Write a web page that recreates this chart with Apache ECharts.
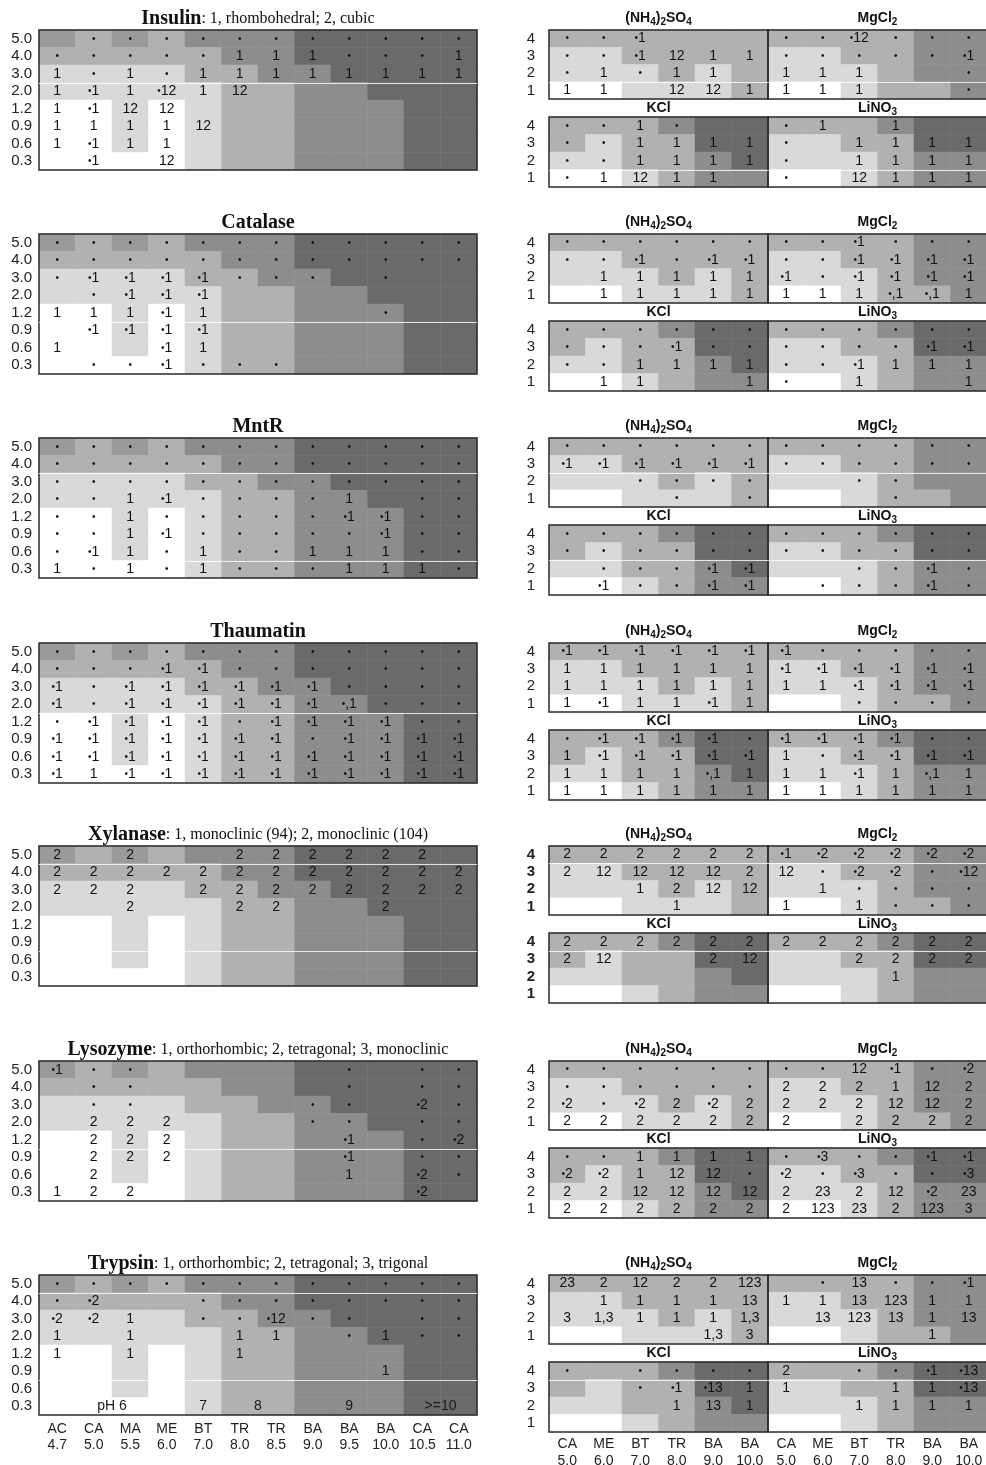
<!DOCTYPE html>
<html><head><meta charset="utf-8">
<script src="https://cdn.jsdelivr.net/npm/echarts@6/dist/echarts.min.js"></script>
<style>html,body{margin:0;padding:0;background:#fff}#chart{width:986px;height:1465px}</style>
</head><body><div id="chart"></div>
<script>
// ---------------- DATA ----------------
const leftBuffers = ['AC','CA','MA','ME','BT','TR','TR','BA','BA','BA','CA','CA'];
const leftPH = ['4.7','5.0','5.5','6.0','7.0','8.0','8.5','9.0','9.5','10.0','10.5','11.0'];
const concentrations = ['5.0','4.0','3.0','2.0','1.2','0.9','0.6','0.3'];
const saltBuffers = ['CA','ME','BT','TR','BA','BA'];
const saltPH = ['5.0','6.0','7.0','8.0','9.0','10.0'];
const saltLevels = ['4','3','2','1'];
const saltNames = ['(NH4)2SO4','MgCl2','KCl','LiNO3'];

const phGroupLabels = ['pH 6','7','8','9','>=10'];
const phGroupFirstCol = [0,4,5,7,10];
const phGroupLastCol = [3,4,6,9,11];

const proteinNames = ['Insulin','Catalase','MntR','Thaumatin','Xylanase','Lysozyme','Trypsin'];
const proteinForms = [': 1, rhombohedral; 2, cubic','','','',': 1, monoclinic (94); 2, monoclinic (104)',
  ': 1, orthorhombic; 2, tetragonal; 3, monoclinic',': 1, orthorhombic; 2, tetragonal; 3, trigonal'];

// shade levels (0 white ... 4 darkest, 5 = medium-light)
const leftShade = [
 '5 2 5 2 3 3 3 4 4 4 4 4',
 '2 2 2 2 2 3 3 4 4 4 4 4',
 '1 1 1 1 2 2 3 3 4 4 4 4',
 '1 1 1 1 1 2 2 3 3 4 4 4',
 '0 0 1 0 1 2 2 3 3 3 4 4',
 '0 0 1 0 1 2 2 3 3 3 4 4',
 '0 0 1 0 1 2 2 3 3 3 4 4',
 '0 0 0 0 1 2 2 3 3 3 4 4'];
const shadeNH4 = ['2 2 2 2 2 2','1 1 2 2 2 2','1 1 1 2 1 2','0 0 1 1 1 2'];
const shadeMgCl2 = ['2 2 2 2 3 3','1 1 2 2 3 3','1 1 1 2 3 3','0 0 1 2 2 3'];
const shadeKCl = ['2 2 2 3 4 4','2 1 2 2 4 4','1 1 2 2 3 4','0 0 1 2 3 3'];
const shadeLiNO3 = ['2 2 2 3 4 4','1 1 2 2 4 4','1 1 1 2 3 3','0 0 1 2 3 3'];

// cell texts ('-' = empty)
const insulinLeft = [
 '- • • • • • • • • • • •',
 '• • • • • 1 1 1 • • • 1',
 '1 • 1 • 1 1 1 1 1 1 1 1',
 '1 •1 1 •12 1 12 - - - - - -',
 '1 •1 12 12 - - - - - - - -',
 '1 1 1 1 12 - - - - - - -',
 '1 •1 1 1 - - - - - - - -',
 '- •1 - 12 - - - - - - - -'];
const insulinNH4 = ['• • •1 - - -','• • •1 12 1 1','• 1 • 1 1 -','1 1 - 12 12 1'];
const insulinMgCl2 = ['• • •12 • • •','• • • • • •1','1 1 1 - - •','1 1 1 - - •'];
const insulinKCl = ['• • 1 • - -','• • 1 1 1 1','• • 1 1 1 1','• 1 12 1 1 -'];
const insulinLiNO3 = ['• 1 - 1 - -','• - 1 1 1 1','• - 1 1 1 1','• - 12 1 1 1'];

const catalaseLeft = [
 '• • • • • • • • • • • •',
 '• • • • • • • • • • • •',
 '• •1 •1 •1 •1 • • • - • - -',
 '- • •1 •1 •1 - - - - - - -',
 '1 1 1 •1 1 - - - - • - -',
 '- •1 •1 •1 •1 - - - - - - -',
 '1 - - •1 1 - - - - - - -',
 '- • • •1 • • • - - - - -'];
const catalaseNH4 = ['• • • • • •','• • •1 • •1 •1','- 1 1 1 1 1','- 1 1 1 1 1'];
const catalaseMgCl2 = ['• • •1 • • •','• • •1 •1 •1 •1','•1 • •1 •1 •1 •1','1 1 1 •,1 •,1 1'];
const catalaseKCl = ['• • • • • •','• • • •1 • •','• • 1 1 1 1','- 1 1 - - 1'];
const catalaseLiNO3 = ['• • • • • •','• • • • •1 •1','• • •1 1 1 1','• - 1 - - 1'];

const mntrLeft = [
 '• • • • • • • • • • • •',
 '• • • • • • • • • • • •',
 '• • • • • • • • • • • •',
 '• • 1 •1 • • • • 1 - • •',
 '• • 1 • • • • • •1 •1 • •',
 '• • 1 •1 • • • • • •1 • •',
 '• •1 1 • 1 • • 1 1 1 • •',
 '1 • 1 • 1 • • • 1 1 1 •'];
const mntrNH4 = ['• • • • • •','•1 •1 •1 •1 •1 •1','- - • • • •','- - - • - •'];
const mntrMgCl2 = ['• • • • • •','• • • • • •','- - • • - -','- - - • - -'];
const mntrKCl = ['• • • • • •','• • • • • •','- • • • •1 •1','- •1 • • •1 •1'];
const mntrLiNO3 = ['• • • • • •','• • • • • •','- - • • •1 •','- • • • •1 •'];

const thaumatinLeft = [
 '• • • • • • • • • • • •',
 '• • • •1 •1 • • • • • • •',
 '•1 • •1 •1 •1 •1 •1 •1 • • • •',
 '•1 • •1 •1 •1 •1 •1 •1 •,1 • • •',
 '• •1 •1 •1 •1 • •1 •1 •1 •1 • •',
 '•1 •1 •1 •1 •1 •1 •1 • •1 •1 •1 •1',
 '•1 •1 •1 •1 •1 •1 •1 •1 •1 •1 •1 •1',
 '•1 1 •1 •1 •1 •1 •1 •1 •1 •1 •1 •1'];
const thaumatinNH4 = ['•1 •1 •1 •1 •1 •1','1 1 1 1 1 1','1 1 1 1 1 1','1 •1 1 1 •1 1'];
const thaumatinMgCl2 = ['•1 • • • • •','•1 •1 •1 •1 •1 •1','1 1 •1 •1 •1 •1','- - • • • •'];
const thaumatinKCl = ['• •1 •1 •1 •1 •','1 •1 •1 •1 •1 •1','1 1 1 1 •,1 1','1 1 1 1 1 1'];
const thaumatinLiNO3 = ['•1 •1 •1 •1 • •','1 • •1 •1 •1 •1','1 1 •1 1 •,1 1','1 1 1 1 1 1'];

const xylanaseLeft = [
 '2 - 2 - - 2 2 2 2 2 2 -',
 '2 2 2 2 2 2 2 2 2 2 2 2',
 '2 2 2 - 2 2 2 2 2 2 2 2',
 '- - 2 - - 2 2 - - 2 - -',
 '- - - - - - - - - - - -',
 '- - - - - - - - - - - -',
 '- - - - - - - - - - - -',
 '- - - - - - - - - - - -'];
const xylanaseNH4 = ['2 2 2 2 2 2','2 12 12 12 12 2','- - 1 2 12 12','- - - 1 - -'];
const xylanaseMgCl2 = ['•1 •2 •2 •2 •2 •2','12 • •2 •2 • •12','- 1 • • • •','1 - 1 • • •'];
const xylanaseKCl = ['2 2 2 2 2 2','2 12 - - 2 12','- - - - - -','- - - - - -'];
const xylanaseLiNO3 = ['2 2 2 2 2 2','- - 2 2 2 2','- - - 1 - -','- - - - - -'];

const lysozymeLeft = [
 '•1 • • - - - - - • - • •',
 '- • • - - - - - • - • •',
 '- • • - - - - • • - •2 •',
 '- 2 2 2 - - - • • - • •',
 '- 2 2 2 - - - - •1 - • •2',
 '- 2 2 2 - - - - •1 - • •',
 '- 2 - - - - - - 1 - •2 •',
 '1 2 2 - - - - - - - •2 -'];
const lysozymeNH4 = ['• • • • • •','• • • • • •','•2 • •2 2 •2 2','2 2 2 2 2 2'];
const lysozymeMgCl2 = ['• • 12 •1 • •2','2 2 2 1 12 2','2 2 2 12 12 2','2 - 2 2 2 2'];
const lysozymeKCl = ['• • 1 1 1 1','•2 •2 1 12 12 •','2 2 12 12 12 12','2 2 2 2 2 2'];
const lysozymeLiNO3 = ['• •3 • • •1 •1','•2 • •3 • • •3','2 23 2 12 •2 23','2 123 23 2 123 3'];

const trypsinLeft = [
 '• • • • • • • • • • • •',
 '• •2 - - • • • • • • • •',
 '•2 •2 1 - • • •12 • • - • •',
 '1 - 1 - - 1 1 - • 1 • •',
 '1 - 1 - - 1 - - - - - -',
 '- - - - - - - - - 1 - -',
 '- - - - - - - - - - - -',
 '- - - - - - - - - - - -'];
const trypsinNH4 = ['23 2 12 2 2 123','- 1 1 1 1 13','3 1,3 1 1 1 1,3','- - - - 1,3 3'];
const trypsinMgCl2 = ['- • 13 • • •1','1 1 13 123 1 1','- 13 123 13 1 13','- - - - 1 -'];
const trypsinKCl = ['• - • • • •','- - • •1 •13 1','- - - 1 13 1','- - - - - -'];
const trypsinLiNO3 = ['2 - • • •1 •13','1 - - 1 1 •13','- - 1 1 1 1','- - - - - -'];

// ---------------- BUILD ----------------
const proteinLeft = [insulinLeft, catalaseLeft, mntrLeft, thaumatinLeft, xylanaseLeft, lysozymeLeft, trypsinLeft];
const proteinSalts = [
  [insulinNH4, insulinMgCl2, insulinKCl, insulinLiNO3],
  [catalaseNH4, catalaseMgCl2, catalaseKCl, catalaseLiNO3],
  [mntrNH4, mntrMgCl2, mntrKCl, mntrLiNO3],
  [thaumatinNH4, thaumatinMgCl2, thaumatinKCl, thaumatinLiNO3],
  [xylanaseNH4, xylanaseMgCl2, xylanaseKCl, xylanaseLiNO3],
  [lysozymeNH4, lysozymeMgCl2, lysozymeKCl, lysozymeLiNO3],
  [trypsinNH4, trypsinMgCl2, trypsinKCl, trypsinLiNO3]];
const saltShades = [shadeNH4, shadeMgCl2, shadeKCl, shadeLiNO3];

const palette = ['#ffffff','#d9d9d9','#b1b1b1','#8d8d8d','#6a6a6a','#9a9a9a'];
const FONT = "'Liberation Sans', Arial, sans-serif";
const SERIF = "'Liberation Serif', 'Times New Roman', serif";
const parseText = r => r.trim().split(/\s+/).map(s => s === '-' ? '' : s);
const parseShade = r => r.trim().split(/\s+/).map(Number);

const panelTops = [30, 234, 438, 643, 846, 1061, 1275];
const LX = 39, LW = 438, LH = 140;
const RX = [549, 768], RW = 219, RTH = 69, RBOFF = 87, RBH = 70;

// scan artifact lines: [protein, panel, row boundary, fromCol]
const artifacts = [[0,'L',3,0],[0,'RT',3,0],[0,'RB',3,0],[1,'L',5,0],[2,'L',2,0],[2,'RT',2,0],[2,'L',7,4],[2,'RB',2,0],
  [3,'L',4,0],[4,'L',1,0],[4,'RT',1,0],[4,'L',6,0],[4,'RB',1,0],[5,'L',5,0],[6,'L',1,0],[6,'L',6,0],[6,'RB',1,0]];

const grids = [], xAxes = [], yAxes = [], series = [], graphics = [];

function addPanel(rect, xCats, yCats, shadeRows, textRows, o) {
  const gi = grids.length, xi = xAxes.length, yi = yAxes.length;
  grids.push(Object.assign({show: true, borderColor: '#2a2a2a', borderWidth: 1.5, backgroundColor: 'transparent', z: 5,
    containLabel: false, outerBoundsMode: 'none'}, rect));
  xAxes.push({type: 'category', gridIndex: gi, data: xCats, axisLine: {show: false}, axisTick: {show: false}, splitLine: {show: false},
    axisLabel: {show: !!o.xLabels, interval: 0, margin: o.xMargin, fontSize: 14, color: '#222', fontFamily: FONT, lineHeight: o.xLineHeight}});
  yAxes.push({type: 'category', gridIndex: gi, data: yCats, inverse: true, axisLine: {show: false}, axisTick: {show: false}, splitLine: {show: false},
    axisLabel: {show: !!o.yLabels, interval: 0, margin: o.yMargin, fontSize: 15, color: '#222', fontFamily: FONT, fontWeight: o.yBold ? 'bold' : 'normal'}});
  const data = [];
  shadeRows.forEach((row, r) => {
    const sh = parseShade(row), tx = parseText(textRows[r]);
    sh.forEach((lv, c) => data.push({value: [c, r, lv], txt: tx[c] || '', itemStyle: {color: palette[lv]}}));
  });
  series.push({type: 'heatmap', xAxisIndex: xi, yAxisIndex: yi, data, silent: true, emphasis: {disabled: true},
    label: {show: true, color: '#111', fontSize: 14, fontFamily: FONT,
      formatter: p => p.data.txt ? p.data.txt.replace(/•/g, '{d|•}') : '',
      rich: {d: {fontSize: 10, color: '#111', fontFamily: FONT}}}});
  return {gi, xi, yi};
}

const leftCats = leftBuffers.map((b, i) => b + '\n' + leftPH[i]);
const saltCats = saltBuffers.map((b, i) => b + '\n' + saltPH[i]);
const saltRich = n => n.replace(/(\d)/g, '{s|$1}');
let phAxes = null;

proteinNames.forEach((name, p) => {
  const T = panelTops[p];
  const last = p === proteinNames.length - 1;
  const L = addPanel({left: LX, top: T, width: LW, height: LH}, leftCats, concentrations, leftShade, proteinLeft[p],
    {xLabels: last, yLabels: true, yMargin: 7, xMargin: 6, xLineHeight: 16});
  graphics.push({type: 'text', x: LX + LW / 2, y: T - 11, z: 20,
    style: {text: '{b|' + name + '}' + (proteinForms[p] ? '{r|' + proteinForms[p] + '}' : ''), align: 'center', verticalAlign: 'middle',
      textAlign: 'center', textVerticalAlign: 'middle',
      rich: {b: {fontFamily: SERIF, fontWeight: 'bold', fontSize: 20, fill: '#111'}, r: {fontFamily: SERIF, fontSize: 16, fill: '#111'}}}});
  if (last) {
    const vxi = xAxes.length;
    xAxes.push({type: 'value', gridIndex: L.gi, min: 0, max: leftBuffers.length, show: false});
    phAxes = {xAxisIndex: vxi, yAxisIndex: L.yi};
  }
  saltNames.forEach((sn, s) => {
    const col = s % 2, row = s >> 1;
    const top = row === 0 ? T : T + RBOFF;
    addPanel({left: RX[col], top, width: RW, height: row === 0 ? RTH : RBH}, saltCats, saltLevels, saltShades[s], proteinSalts[p][s],
      {xLabels: last && row === 1, yLabels: col === 0, yMargin: 14, yBold: p === 4, xMargin: 4, xLineHeight: 17});
    graphics.push({type: 'text', x: RX[col] + RW / 2, y: row === 0 ? T - 12 : T + RBOFF - 9, z: 20,
      style: {text: saltRich(sn), align: 'center', verticalAlign: 'middle', textAlign: 'center', textVerticalAlign: 'middle',
        fontFamily: FONT, fontWeight: 'bold', fontSize: 14, lineHeight: 19, fill: '#111',
        rich: {s: {fontFamily: FONT, fontWeight: 'bold', fontSize: 10, lineHeight: 10, verticalAlign: 'bottom', fill: '#111'}}}});
  });
});

artifacts.forEach(([p, panel, b, fromCol]) => {
  const T = panelTops[p];
  let x1, x2, y;
  if (panel === 'L') { x1 = LX + fromCol * LW / 12; x2 = LX + LW; y = T + b * LH / 8; }
  else if (panel === 'RT') { x1 = RX[0]; x2 = RX[1] + RW; y = T + b * RTH / 4; }
  else { x1 = RX[0]; x2 = RX[1] + RW; y = T + RBOFF + b * RBH / 4; }
  y = Math.round(y) + 0.5;
  graphics.push({type: 'line', z: 15, silent: true, shape: {x1, y1: y, x2, y2: y}, style: {stroke: 'rgba(255,255,255,0.8)', lineWidth: 1}});
});

const chart = echarts.init(document.getElementById('chart'), null, {renderer: 'canvas'});
chart.setOption({animation: false, backgroundColor: '#ffffff', grid: grids, xAxis: xAxes, yAxis: yAxes, series, graphic: {elements: graphics}});

// pH group labels placed through the trypsin panel's scales
const phElems = phGroupLabels.map((l, i) => {
  const pt = chart.convertToPixel(phAxes, [(phGroupFirstCol[i] + phGroupLastCol[i] + 1) / 2, concentrations.length - 1]);
  return {type: 'text', id: 'ph' + i, x: pt[0], y: pt[1], z: 20, silent: true,
    style: {text: l, align: 'center', verticalAlign: 'middle', textAlign: 'center', textVerticalAlign: 'middle',
      fontFamily: FONT, fontSize: 14, fill: '#1a1a1a'}};
});
chart.setOption({graphic: {elements: phElems}});
</script></body></html>
